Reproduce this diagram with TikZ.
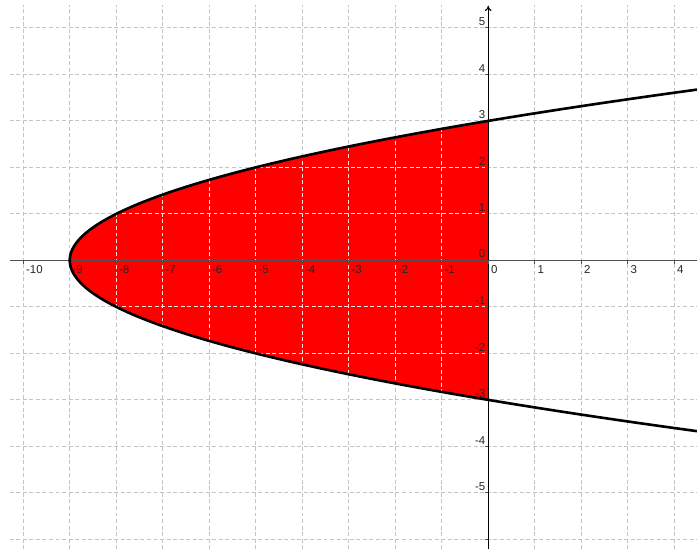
\documentclass[tikz,border=0pt]{standalone}
\usepackage{fontspec}
\newfontfamily\axisfont{Liberation Sans}
\usepackage{xcolor}
\definecolor{areaRed}{HTML}{FF0000}
\definecolor{gridGray}{HTML}{C4C4C4}
\definecolor{axisInk}{HTML}{505050}
\usetikzlibrary{arrows.meta}

\begin{document}
\begin{tikzpicture}[
  every node/.style={font=\axisfont\fontsize{7}{8}\selectfont, text=black!85, inner sep=1pt},
  gridline/.style={gridGray, dash pattern=on 2.4pt off 1.6pt, line width=0.6pt},
  redgrid/.style={gridline, color=red!12},
  axisline/.style={axisInk, line width=0.7pt},
  curve/.style={black, line width=1.6pt},
  xlab/.style={anchor=north west, xshift=0.6pt, yshift=-2.2pt},
  ylab/.style={anchor=south east, xshift=-0.6pt, yshift=0.2pt},
]
\useasboundingbox (-10.50,-6.21) rectangle (4.49,5.60);

% Grid
\foreach \gx in {-10,...,4}
  \draw[gridline] (\gx,-6.21) -- (\gx,5.49);
\foreach \gy in {-6,...,5}
  \draw[gridline] (-10.29,\gy) -- (4.49,\gy);

% Region between x = y^2 - 9 and the y-axis
\fill[areaRed] plot[domain=-3:3, samples=80] ({\x*\x-9},{\x}) -- cycle;
\begin{scope}
  \clip plot[domain=-3:3, samples=80] ({\x*\x-9},{\x}) -- cycle;
  \foreach \gx in {-9,...,-1}
    \draw[redgrid] (\gx,-3) -- (\gx,3);
  \foreach \gy in {-2,...,2}
    \draw[redgrid] (-9,\gy) -- (0,\gy);
\end{scope}

% Axes
\coordinate (xl) at (-10.29,0);
\coordinate (xr) at (4.49,0);
\coordinate (yb) at (0,-6.21);
\coordinate (yt) at (0,5.47);
\draw[axisline] (xl) -- (xr);
\draw[axisline, black, -{To[length=3pt, width=4pt]}] (yb) -- (yt);

% Ticks
\foreach \gx in {-10,...,4}
  \draw[axisline] (\gx,0) -- ++(0,-2pt);
\foreach \gy in {-6,...,5}
  \draw[axisline] (0,\gy) -- ++(-2pt,0);

% Parabola
\draw[curve] plot[domain=-3.68:3.68, samples=120] ({\x*\x-9},{\x});

% Labels
\foreach \gx in {-10,...,4}
  \node[xlab] (lx\gx) at (\gx,0) {\gx};
\foreach \gy in {-5,...,5}
  \node[ylab] (ly\gy) at (0,\gy) {\gy};

\end{tikzpicture}
\end{document}
